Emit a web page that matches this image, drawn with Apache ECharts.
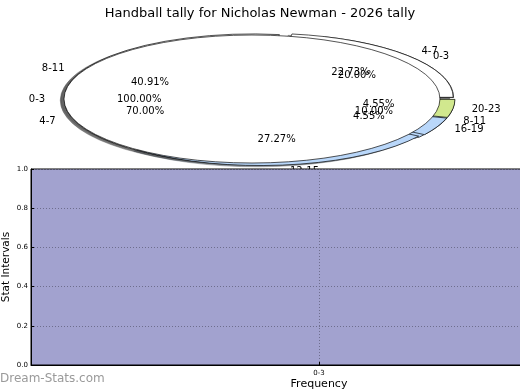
<!DOCTYPE html>
<html><head><meta charset="utf-8">
<script src="https://cdn.jsdelivr.net/npm/echarts@6/dist/echarts.min.js"></script>
<style>html,body{margin:0;padding:0;background:#fff}#c{width:520px;height:390px}</style>
</head><body><div id="c"></div>
<script>
const titleText = 'Handball tally for Nicholas Newman - 2026 tally';
// Pie A (drawn on top): single slice
const pieALabels = ['0-3'];
const pieAValues = [1];
// Pie B (outer coloured ring)
const pieBLabels = ['4-7', '8-11', '12-15', '16-19', '20-23'];
const pieBValues = [5, 9, 6, 1, 1];
// Pie C
const pieCLabels = ['0-3', '4-7', '8-11'];
const pieCValues = [2, 7, 1];
const sliceColors = ['#ffffff', '#ffffff', '#b9d7fa', '#b9d7fa', '#d1e88e'];
// Bar chart
const barCategories = ['0-3'];
const barValues = [0];
const yTickValues = [0, 0.2, 0.4, 0.6, 0.8, 1.0];

const CX = 259.5, CY = 99, RX = 188, RY = 64, EXPLODE = 0.04;
const FONT = '"DejaVu Sans", "Liberation Sans", sans-serif';

function geom(values) {
  const total = values.reduce((a, b) => a + b, 0);
  let cum = 0;
  return values.map(v => {
    const t1 = cum / total * 360; cum += v; const t2 = cum / total * 360;
    const m = (t1 + t2) / 2 * Math.PI / 180;
    return { t1, t2, m, frac: v / total,
      ox: CX + EXPLODE * RX * Math.cos(m), oy: CY - EXPLODE * RY * Math.sin(m) };
  });
}
function hexToRgb(h) { return [1, 3, 5].map(i => parseInt(h.substr(i, 2), 16)); }

const pies = [
  { labels: pieCLabels, values: pieCValues },
  { labels: pieBLabels, values: pieBValues },
  { labels: pieALabels, values: pieAValues }
];

function sectorEl(g, dx, dy, fill, stroke) {
  return {
    type: 'sector',
    shape: { cx: g.ox + dx, cy: g.oy + dy, r: RX, r0: 0,
      startAngle: -g.t2 * Math.PI / 180, endAngle: -g.t1 * Math.PI / 180, clockwise: true },
    originX: g.ox + dx, originY: g.oy + dy, scaleX: 1, scaleY: RY / RX,
    style: { fill: fill, stroke: stroke, lineWidth: 1, strokeNoScale: true }
  };
}

const series = [];
// shadows for all pies first
pies.forEach((p, pi) => {
  const gs = geom(p.values);
  series.push({
    type: 'custom', coordinateSystem: 'none', zlevel: 0, z: 1, silent: true,
    data: p.values.map((v, i) => [i, v]),
    renderItem: (params) => {
      const i = params.dataIndex, g = gs[i];
      const c = hexToRgb(sliceColors[i % sliceColors.length]).map(x => Math.round(x * 0.3));
      const col = 'rgba(' + c.join(',') + ',0.5)';
      return sectorEl(g, -0.02 * RX, 0.02 * RY, col, col);
    }
  });
});
// wedges
pies.forEach((p, pi) => {
  const gs = geom(p.values);
  series.push({
    type: 'custom', coordinateSystem: 'none', zlevel: 0, z: 2 + pi, silent: true,
    data: p.values.map((v, i) => [i, v]),
    renderItem: (params) => {
      const i = params.dataIndex, g = gs[i];
      return sectorEl(g, 0, 0, sliceColors[i % sliceColors.length], '#000');
    }
  });
});
// labels
pies.forEach((p, pi) => {
  const gs = geom(p.values);
  series.push({
    type: 'custom', coordinateSystem: 'none', zlevel: 0, z: 10, silent: true,
    data: p.values.map((v, i) => [i, v]),
    renderItem: (params) => {
      const i = params.dataIndex, g = gs[i];
      const cm = Math.cos(g.m), sm = Math.sin(g.m);
      const lx = g.ox + 1.1 * RX * cm, ly = g.oy - 1.1 * RY * sm;
      const px = g.ox + 0.6 * RX * cm, py = g.oy - 0.6 * RY * sm;
      return { type: 'group', children: [
        { type: 'text', x: lx, y: ly, style: { text: p.labels[i], fill: '#000',
          font: '10px ' + FONT, align: cm > 0 ? 'left' : 'right', verticalAlign: 'middle' } },
        { type: 'text', x: px, y: py, style: { text: (g.frac * 100).toFixed(2) + '%', fill: '#000',
          font: '10px ' + FONT, align: 'center', verticalAlign: 'middle' } }
      ] };
    }
  });
});
series.push({
  type: 'bar', data: barValues, zlevel: 1, z: 2, barWidth: '80%',
  itemStyle: { color: '#2a2a8a' }, silent: true
});

const chart = echarts.init(document.getElementById('c'), null, { renderer: 'canvas' });
chart.setOption({
  animation: false,
  backgroundColor: '#fff',
  title: { text: titleText, left: 'center', top: 2,
    textStyle: { fontFamily: FONT, fontSize: 13, fontWeight: 'normal', color: '#000' } },
  grid: { left: 31, top: 169, width: 576, height: 196, show: true, zlevel: 1, z: 0,
    outerBoundsMode: 'none', containLabel: false,
    backgroundColor: '#a2a2cf', borderColor: '#000', borderWidth: 1 },
  xAxis: { type: 'category', data: barCategories, zlevel: 1,
    name: 'Frequency', nameLocation: 'middle', nameGap: 14, nameMoveOverlap: false,
    nameTextStyle: { fontFamily: FONT, fontSize: 11, color: '#000' },
    axisLine: { lineStyle: { color: '#000' } },
    axisTick: { show: true, alignWithLabel: true, inside: true, length: 3, lineStyle: { color: '#000' } },
    axisLabel: { fontFamily: FONT, fontSize: 7, color: '#000', margin: 5 },
    splitLine: { show: true, alignWithLabel: true, lineStyle: { color: '#6e6e8e', type: [1, 2] } } },
  yAxis: { type: 'value', min: 0, max: 1, interval: 0.2, zlevel: 1,
    name: 'Stat Intervals', nameLocation: 'middle', nameGap: 19, nameRotate: 90, nameMoveOverlap: false,
    nameTextStyle: { fontFamily: FONT, fontSize: 10.5, color: '#000' },
    axisLine: { show: true, lineStyle: { color: '#000' } },
    axisTick: { show: true, inside: true, length: 3, lineStyle: { color: '#000' } },
    axisLabel: { fontFamily: FONT, fontSize: 7, color: '#000', margin: 3,
      formatter: v => yTickValues.includes(+v.toFixed(1)) ? v.toFixed(1) : '' },
    splitLine: { show: true, lineStyle: { color: '#6e6e8e', type: [1, 2] } } },
  graphic: [{ type: 'text', left: 0, top: 373, zlevel: 1,
    style: { text: 'Dream-Stats.com', fill: '#9a9a9a', font: '12px ' + FONT } }],
  series: series
});
</script></body></html>
